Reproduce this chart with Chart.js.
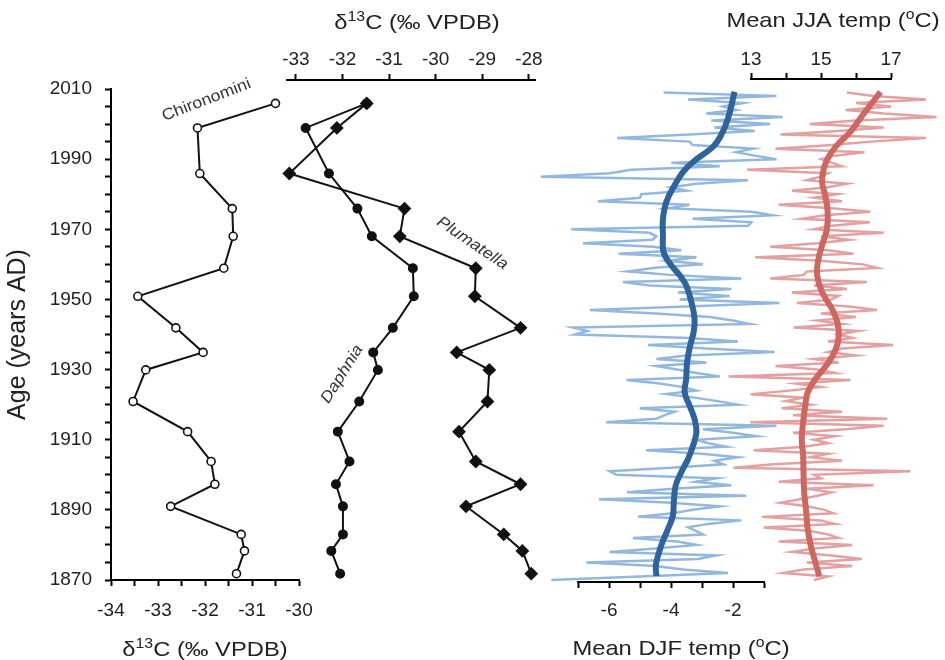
<!DOCTYPE html>
<html>
<head>
<meta charset="utf-8">
<script src="https://cdn.jsdelivr.net/npm/chart.js@4.4.1/dist/chart.umd.min.js"></script>
<style>
  html, body { margin: 0; padding: 0; background: #fff; }
  #wrap { position: relative; width: 945px; height: 660px; }
  #wrap canvas { position: absolute; left: 0; top: 0; }
</style>
</head>
<body>
<div id="wrap">
  <canvas id="chart-chir" width="945" height="660"></canvas>
  <canvas id="chart-iso" width="945" height="660"></canvas>
  <canvas id="chart-djf" width="945" height="660"></canvas>
  <canvas id="chart-jja" width="945" height="660"></canvas>
</div>
<script>
// sample ages of the dated sediment slices (years AD)
const sampleAges = [2005.9, 1998.9, 1985.9, 1975.9, 1968, 1958.9, 1950.9, 1941.9, 1934.9,
  1929.9, 1920.9, 1912.3, 1903.8, 1897.3, 1891, 1883, 1878.3, 1871.8];
const chironominiD13C = [-30.50, -32.16, -32.11, -31.42, -31.40, -31.60, -33.43, -32.62, -32.04,
  -33.26, -33.53, -32.37, -31.87, -31.79, -32.73, -31.23, -31.16, -31.33];
const daphniaD13C = [-31.48, -32.79, -32.29, -31.68, -31.37, -30.49, -30.47, -30.92, -31.34,
  -31.24, -31.64, -32.10, -31.85, -32.14, -31.99, -31.99, -32.24, -32.05];
const plumatellaD13C = [-31.48, -32.12, -33.14, -30.67, -30.77, -29.14, -29.16, -28.18, -29.55,
  -28.85, -28.89, -29.50, -29.14, -28.18, -29.35, -28.54, -28.14, -27.95];

// instrumental record, one value per year from 2009 back to 1870
const firstYear = 2009;
const djfTemps = [
  -4.24, -0.6, -3.45, -1.68, -2.32, -1.89, -2.86, -0.4, -2.70, -0.8,   // 2009-2000
  -2.6, -1.3, -3.4, -5.73, -3.4, -3.3, -1.35, -1.9, -1.3, -0.6,        // 1999-1990
  -3.99, -2.43, -5.28, -5.98, -8.2, -1.52, -3.18, -4.0, -3.5, -4.96,   // 1989-1980
  -5.0, -6.36, -3.4, -4.1, -1.4, -0.72, -3.3, -1.41, -1.51, -7.22,     // 1979-1970
  -4.69, -4.47, -4.6, -6.84, -4.58, -3.67, -5.69, -3.18, -4.10, -2.97, // 1969-1960
  -4.5, -5.39, -4.04, -1.73, -5.55, -4.69, -2.05, -3.77, -2.11, -3.72, // 1959-1950
  -0.5, -3.5, -6.62, -4.5, -2.75, -2.0, -1.46, -7.16, -6.7, -7.1,      // 1949-1940
  -3.4, -1.84, -4.74, -2.86, -0.66, -3.5, -4.47, -2.86, -4.47, -3.8,   // 1939-1930
  -3.18, -2.43, -5.44, -4.37, -3.6, -3.18, -4.15, -3.24, -2.5, -1.84,  // 1929-1920
  -5.01, -3.88, -4.2, -4.47, -6.09, -0.6, -2.97, -2.0, -1.25, -3.18,   // 1919-1910
  -2.8, -2.22, -4.80, -3.0, -1.84, -2.6, -2.32, -4.0, -5.98, -5.76,    // 1909-1900
  -2.54, -3.2, -2.05, -3.94, -5.42, -1.57, -6.32, -4.0, -2.43, -3.3,   // 1899-1890
  -3.94, -5.06, -1.73, -2.8, -3.45, -3.2, -2.97, -5.23, -3.8, -3.18,   // 1889-1880
  -4.5, -5.98, -2.54, -3.13, -6.73, -4.5, -3.61, -2.16, -5.0, -7.86    // 1879-1870
];
const jjaTemps = [
  15.74, 16.5, 18.0, 16.0, 17.0, 15.70, 16.8, 18.3, 16.0, 14.68,
  16.79, 15.5, 13.84, 18.0, 16.43, 15.2, 13.70, 16.24, 15.4, 15.0,
  15.3, 15.6, 12.89, 15.2, 14.98, 14.6, 15.74, 15.2, 14.17, 15.46,
  14.8, 15.6, 13.79, 15.3, 16.41, 15.1, 14.46, 16.4, 15.3, 14.8,
  16.79, 15.0, 15.8, 14.9, 13.55, 15.2, 15.93, 13.12, 15.0, 16.2,
  16.6, 14.6, 14.5, 13.55, 16.31, 14.8, 15.74, 14.17, 15.5, 15.3,
  14.31, 15.8, 16.6, 15.0, 16.0, 14.9, 15.6, 14.22, 16.07, 15.5,
  15.9, 15.2, 17.06, 15.6, 15.2, 16.0, 14.8, 15.5, 13.70, 14.9,
  15.4, 12.36, 15.84, 14.3, 15.0, 14.1, 12.99, 14.5, 14.0, 14.7,
  13.88, 15.6, 14.2, 16.89, 12.98, 16.79, 15.7, 14.2, 15.4, 14.8,
  15.2, 14.5, 13.08, 15.2, 14.7, 15.6, 13.65, 12.5, 17.55, 14.8,
  15.0, 13.79, 16.5, 14.6, 15.3, 14.9, 14.4, 13.84, 14.6, 15.1,
  15.36, 13.31, 14.98, 15.4, 13.36, 14.7, 15.2, 15.5, 13.79, 15.89,
  14.8, 14.17, 15.3, 16.17, 14.6, 15.89, 14.5, 13.93, 15.2, 14.8
];

// smoothed curves
const djfSmoothYears = [2009.2, 2001.6, 1996.9, 1993.5, 1989.2, 1986.4, 1982.6, 1977.8, 1973, 1968.3,
  1963.5, 1959.7, 1956.9, 1954, 1949.2, 1944.5, 1940.7, 1936.9, 1932.1, 1927.3, 1923.5, 1919.7,
  1915.9, 1912.1, 1908.3, 1904.5, 1900.7, 1896.9, 1892.1, 1888.3, 1884.5, 1880.7, 1876.9, 1874, 1871.1];
const djfSmooth = [-1.95, -2.16, -2.38, -2.65, -3.29, -3.61, -3.88, -4.15, -4.26, -4.26,
  -4.24, -3.99, -3.72, -3.51, -3.34, -3.24, -3.27, -3.38, -3.48, -3.51, -3.56, -3.40,
  -3.24, -3.18, -3.29, -3.45, -3.67, -3.85, -3.91, -3.94, -4.10, -4.28, -4.42, -4.49, -4.47];
const jjaSmoothYears = [2009.2, 2005.4, 2001.6, 1997.8, 1994, 1990.7, 1987.3, 1983.5, 1979.7, 1975,
  1970.2, 1965.4, 1960.7, 1956.9, 1952.1, 1946.4, 1941.6, 1936.9, 1932.1, 1927.3, 1923.5, 1919.7,
  1915, 1910.2, 1905.4, 1900.7, 1894.9, 1889.2, 1884.5, 1879.7, 1875, 1871.1];
const jjaSmooth = [16.70, 16.41, 16.12, 15.84, 15.46, 15.22, 15.08, 15.03, 15.12, 15.19,
  15.17, 15.03, 14.91, 14.89, 15.03, 15.36, 15.50, 15.46, 15.22, 14.84, 14.62, 14.55,
  14.49, 14.45, 14.49, 14.50, 14.52, 14.58, 14.62, 14.71, 14.84, 14.95];

// tick labels
const ageLabels = [1870, 1890, 1910, 1930, 1950, 1970, 1990, 2010];
const chirAxisLabels = [-34, -33, -32, -31, -30];
const isoAxisLabels = [-33, -32, -31, -30, -29, -28];
const djfAxisLabels = [-6, -4, -2];
const jjaAxisLabels = [13, 15, 17];

const FONT = "'Liberation Sans', Arial, Helvetica, sans-serif";
const INK = '#222';
const TICK_SIZE = 19;
Chart.defaults.font.family = FONT;
Chart.defaults.color = INK;

// every panel shares the age scale: 2010 sits at y=89, 1870 at y=580
const AREA_TOP = 89, AREA_BOTTOM = 580, PX_PER_YEAR = 3.5;
const ageRange = (top, bottom) => ({
  min: 1870 - (bottom - AREA_BOTTOM) / PX_PER_YEAR,
  max: 2010 + (AREA_TOP - top) / PX_PER_YEAR
});

const pts = (xs, ys) => xs.map((x, i) => ({ x, y: ys[i] }));
const annualYears = djfTemps.map((_, i) => firstYear - i);
const hasLabel = (labels, v) => labels.some(l => Math.abs(l - v) < 1e-6);

const xAxis = (position, min, max, step, labels, pad, size) => ({
  type: 'linear', position, min, max,
  border: { display: true, color: '#000', width: 2 },
  grid: { drawOnChartArea: false, drawTicks: true, tickLength: 6, tickColor: '#000', tickWidth: 2 },
  ticks: {
    stepSize: step, autoSkip: false, maxRotation: 0, padding: pad, includeBounds: false,
    font: { size: TICK_SIZE }, color: INK,
    callback: v => hasLabel(labels, v) ? String(v) : ''
  },
  afterBuildTicks: s => {
    s.ticks = s.ticks.filter(t => t.value >= min - 1e-9 && t.value <= max + 1e-9 &&
      Math.abs(t.value / step - Math.round(t.value / step)) < 1e-6);
  },
  afterFit: s => { s.height = size; }
});

const hiddenAge = (top, bottom) => ({ type: 'linear', display: false, ...ageRange(top, bottom) });

// draws text made of normal and raised parts, centred on (cx, cy)
function drawRich(ctx, parts, cx, cy, size, opt = {}) {
  const style = opt.italic ? 'italic ' : '';
  const big = style + size + 'px ' + FONT;
  const small = style + Math.round(size * 0.65) + 'px ' + FONT;
  ctx.save();
  ctx.translate(cx, cy);
  if (opt.angle) ctx.rotate(opt.angle * Math.PI / 180);
  if (opt.sx) ctx.scale(opt.sx, 1);
  ctx.textBaseline = 'alphabetic';
  ctx.textAlign = 'left';
  ctx.fillStyle = opt.color || INK;
  let w = 0;
  parts.forEach(p => { ctx.font = p.sup ? small : big; w += ctx.measureText(p.t).width; });
  let x = -w / 2;
  const base = size * 0.358;
  parts.forEach(p => {
    ctx.font = p.sup ? small : big;
    ctx.fillText(p.t, x, p.sup ? base - size * 0.38 : base);
    x += ctx.measureText(p.t).width;
  });
  ctx.restore();
}

// axis captions placed relative to their own scale
const captionPlugin = {
  id: 'captions',
  afterDraw(chart, args, opts) {
    (opts.items || []).forEach(c => {
      const s = chart.scales[c.scale];
      const cx = (s.left + s.right) / 2 + (c.dx || 0);
      const cy = c.edge === 'bottom' ? s.bottom - c.dy : s.top + c.dy;
      drawRich(chart.ctx, c.parts, cx, cy, 21, { sx: 1.13 });
    });
  }
};

// taxon names written along their curves, anchored in data space
const taxonPlugin = {
  id: 'taxa',
  afterDatasetsDraw(chart, args, opts) {
    const xs = chart.scales.x, ys = chart.scales.y;
    (opts.items || []).forEach(it => {
      drawRich(chart.ctx, [{ t: it.text }], xs.getPixelForValue(it.x), ys.getPixelForValue(it.y),
        16, { angle: it.angle, italic: it.italic, color: '#333', sx: 1.1 });
    });
  }
};

const d13cTitle = [{ t: 'δ' }, { t: '13', sup: true }, { t: 'C (‰ VPDB)' }];

const common = {
  responsive: false,
  animation: false,
  events: [],
  plugins: { legend: { display: false }, tooltip: { enabled: false } }
};

// Chironomini panel, carries the age axis
new Chart(document.getElementById('chart-chir'), {
  type: 'scatter',
  data: {
    datasets: [{
      data: pts(chironominiD13C, sampleAges),
      showLine: true, borderColor: '#111', borderWidth: 2,
      pointRadius: 4, pointBackgroundColor: '#fff', pointBorderColor: '#111', pointBorderWidth: 1.6,
      clip: false
    }]
  },
  options: {
    ...common,
    layout: { padding: { left: 0, right: 646, top: AREA_TOP, bottom: 0 } },
    scales: {
      x: xAxis('bottom', -34, -30, 0.5, chirAxisLabels, 13, 80),
      y: {
        type: 'linear', min: 1870, max: 2010,
        border: { display: true, color: '#000', width: 2 },
        grid: { drawOnChartArea: false, tickLength: 6, tickColor: '#000', tickWidth: 2 },
        ticks: {
          stepSize: 5, autoSkip: false, padding: 13, font: { size: TICK_SIZE }, color: INK,
          callback: v => hasLabel(ageLabels, v) ? String(v) : ''
        },
        title: { display: true, text: 'Age (years AD)', font: { size: 25 }, color: INK, padding: { top: 3, bottom: 0 } },
        afterFit: s => { s.width = 111; }
      }
    },
    plugins: {
      ...common.plugins,
      captions: { items: [{ scale: 'x', edge: 'bottom', dy: 12, parts: d13cTitle }] },
      taxa: { items: [{ text: 'Chironomini', x: -31.98, y: 2007.2, angle: -21 }] }
    }
  },
  plugins: [captionPlugin, taxonPlugin]
});

// Daphnia and Plumatella on the top isotope axis
new Chart(document.getElementById('chart-iso'), {
  type: 'scatter',
  data: {
    datasets: [{
      data: pts(plumatellaD13C, sampleAges),
      showLine: true, borderColor: '#111', borderWidth: 2,
      pointStyle: 'rectRot', pointRadius: 5.5, pointBackgroundColor: '#111', pointBorderColor: '#111',
      clip: false
    }, {
      data: pts(daphniaD13C, sampleAges),
      showLine: true, borderColor: '#111', borderWidth: 2,
      pointRadius: 4, pointBackgroundColor: '#111', pointBorderColor: '#111',
      clip: false
    }]
  },
  options: {
    ...common,
    layout: { padding: { left: 287, right: 410, top: 0, bottom: 80 } },
    scales: {
      x: xAxis('top', -33.19, -27.87, 1, isoAxisLabels, 3, 80),
      y: hiddenAge(80, 580)
    },
    plugins: {
      ...common.plugins,
      captions: { items: [{ scale: 'x', edge: 'top', dy: 21, dx: 6, parts: d13cTitle }] },
      taxa: {
        items: [
          { text: 'Plumatella', x: -29.2, y: 1966.3, angle: 34, italic: true },
          { text: 'Daphnia', x: -32.03, y: 1928.9, angle: -58, italic: true }
        ]
      }
    }
  },
  plugins: [captionPlugin, taxonPlugin]
});

// winter temperatures
new Chart(document.getElementById('chart-djf'), {
  type: 'scatter',
  data: {
    datasets: [{
      data: pts(djfSmooth, djfSmoothYears),
      showLine: true, borderColor: '#2f6399', borderWidth: 6, tension: 0.4,
      pointRadius: 0, clip: false
    }, {
      data: pts(djfTemps, annualYears),
      showLine: true, borderColor: '#93b8de', borderWidth: 2.5,
      pointRadius: 0, clip: false
    }]
  },
  options: {
    ...common,
    layout: { padding: { left: 578, right: 181, top: AREA_TOP, bottom: 0 } },
    scales: {
      x: xAxis('bottom', -7, -1, 1, djfAxisLabels, 11, 78),
      y: hiddenAge(AREA_TOP, 582)
    },
    plugins: {
      ...common.plugins,
      captions: {
        items: [{ scale: 'x', edge: 'bottom', dy: 13, dx: 10,
          parts: [{ t: 'Mean DJF temp (' }, { t: 'o', sup: true }, { t: 'C)' }] }]
      }
    }
  },
  plugins: [captionPlugin]
});

// summer temperatures
new Chart(document.getElementById('chart-jja'), {
  type: 'scatter',
  data: {
    datasets: [{
      data: pts(jjaSmooth, jjaSmoothYears),
      showLine: true, borderColor: '#cd6762', borderWidth: 6, tension: 0.4,
      pointRadius: 0, clip: false
    }, {
      data: pts(jjaTemps, annualYears),
      showLine: true, borderColor: '#e3a1a2', borderWidth: 2.5,
      pointRadius: 0, clip: false
    }]
  },
  options: {
    ...common,
    layout: { padding: { left: 751, right: 54, top: 0, bottom: 80 } },
    scales: {
      x: xAxis('top', 13, 17, 1, jjaAxisLabels, 2, 79),
      y: hiddenAge(79, 580)
    },
    plugins: {
      ...common.plugins,
      captions: {
        items: [{ scale: 'x', edge: 'top', dy: 19.5, dx: 12,
          parts: [{ t: 'Mean JJA temp (' }, { t: 'o', sup: true }, { t: 'C)' }] }]
      }
    }
  },
  plugins: [captionPlugin]
});
</script>
</body>
</html>
